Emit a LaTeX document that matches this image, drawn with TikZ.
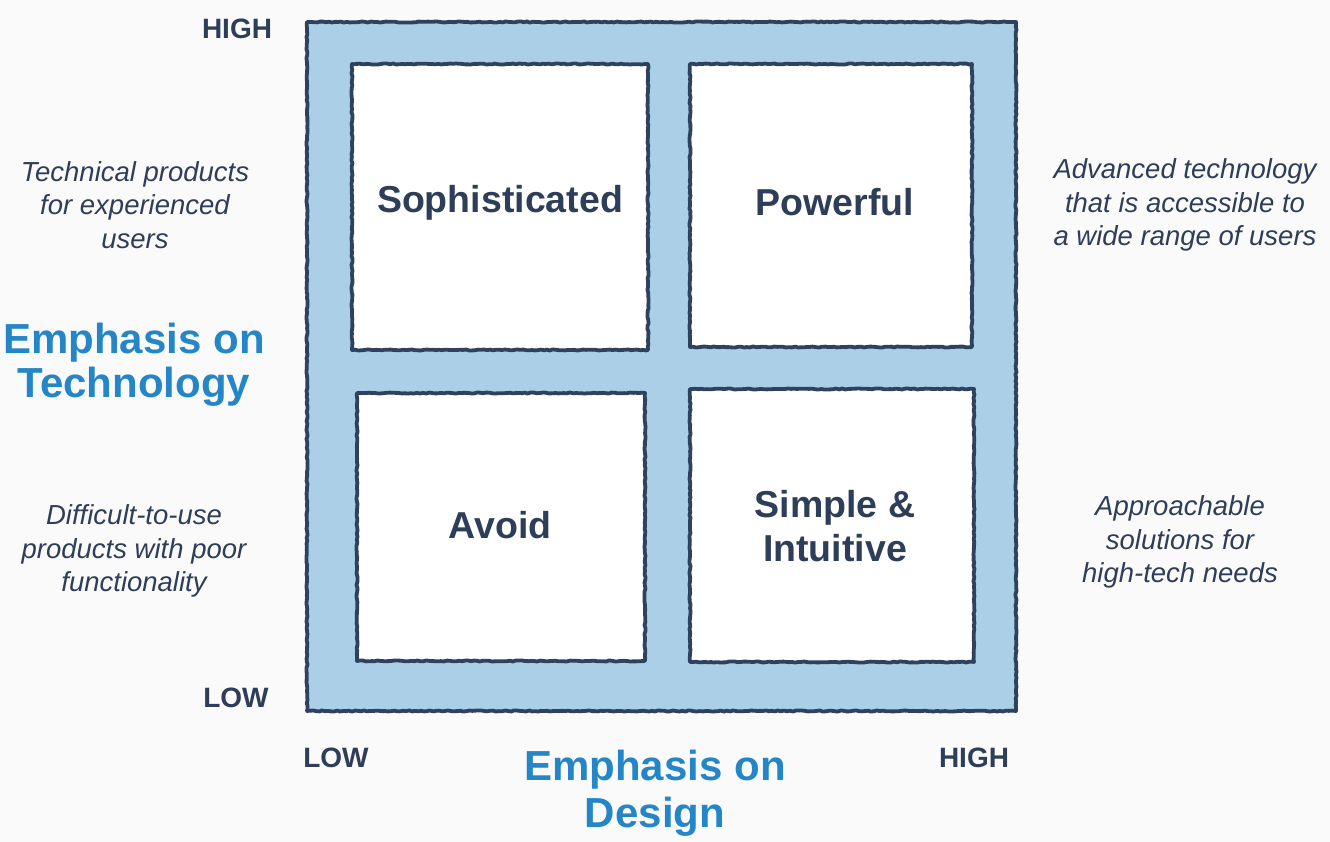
\documentclass[tikz,border=0pt]{standalone}
\usepackage{fontspec}
\setmainfont{Liberation Sans}
\usetikzlibrary{decorations.pathmorphing}
\definecolor{bgc}{RGB}{250,250,250}
\definecolor{wash}{RGB}{170,207,231}
\definecolor{ink}{RGB}{46,66,96}
\definecolor{txt}{RGB}{46,62,88}
\definecolor{headblue}{RGB}{36,134,198}
\tikzset{
  sketch/.style={draw=ink, line width=3.8pt, line join=round,
    decorate, decoration={random steps, segment length=3pt, amplitude=0.55pt}},
  quad/.style={text=txt, font=\bfseries\fontsize{37.5}{44}\selectfont, align=center},
  axlvl/.style={text=txt, font=\bfseries\fontsize{28}{32}\selectfont},
  note/.style={text=txt, font=\itshape\fontsize{27.5}{33.5}\selectfont, align=center},
  axis/.style={text=headblue, font=\bfseries\fontsize{42}{44}\selectfont, align=center},
  axisx/.style={axis, font=\bfseries\fontsize{42}{47}\selectfont}
}
\begin{document}
\begin{tikzpicture}[x=1pt,y=-1pt]
\fill[bgc] (0,0) rectangle (1330,842);
\useasboundingbox (0,0) rectangle (1330,842);
% outer frame
\fill[wash] (307,22) rectangle (1016,711);
\draw[sketch] (307,22) rectangle (1016,711);
% inner boxes
\fill[white] (352,64) rectangle (648,350);
\draw[sketch] (352,64) rectangle (648,350);
\fill[white] (690,64) rectangle (972,347);
\draw[sketch] (690,64) rectangle (972,347);
\fill[white] (357,393) rectangle (645,661);
\draw[sketch] (357,393) rectangle (645,661);
\fill[white] (690,389) rectangle (974,662);
\draw[sketch] (690,389) rectangle (974,662);
% quadrant labels
\node[quad] (soph) at (500,203) {Sophisticated};
\node[quad] (pow) at (835,202) {Powerful};
\node[quad] (avoid) at (500,525) {Avoid};
\node[quad] (simple) at (835,526) {Simple \&\\Intuitive};
% axis levels
\node[axlvl] (yhigh) at (237,29) {HIGH};
\node[axlvl] (ylow) at (236,698) {LOW};
\node[axlvl] (xlow) at (336,758) {LOW};
\node[axlvl] (xhigh) at (974,758) {HIGH};
% axis titles
\node[axis] (ytitle) at (134,365) {Emphasis on\\Technology};
\node[axisx] (xtitle) at (655,793) {Emphasis on\\Design};
% notes
\node[note] (n1) at (135,205) {Technical products\\for experienced\\users};
\node[note] (n2) at (134,551) {Difficult-to-use\\products with poor\\functionality};
\node[note] (n3) at (1185,205) {Advanced technology\\that is accessible to\\a wide range of users};
\node[note] (n4) at (1180,542) {Approachable\\solutions for\\high-tech needs};
\end{tikzpicture}
\end{document}
